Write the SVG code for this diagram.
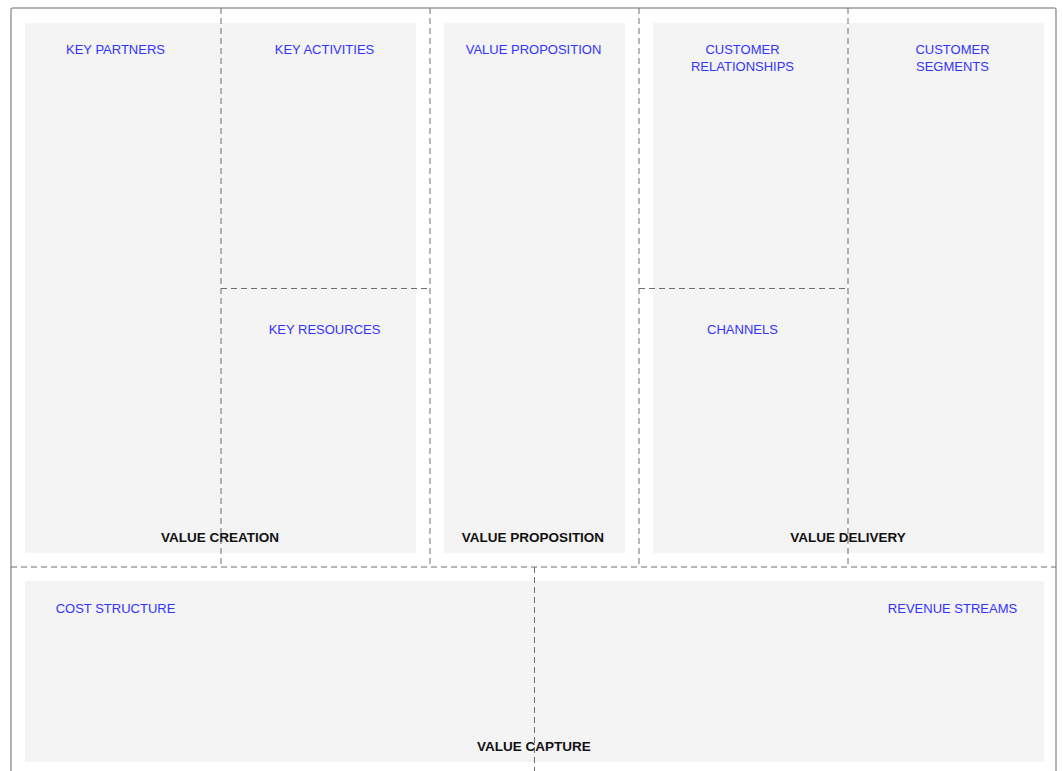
<svg xmlns="http://www.w3.org/2000/svg" width="1062" height="771" viewBox="0 0 1062 771">
  <style>
    .panel { fill: #f4f4f4; }
    .frame { fill: none; stroke: #9a9a9a; stroke-width: 1.5; }
    .grid { stroke: #6e6e6e; stroke-width: 1; stroke-dasharray: 6 4; fill: none; }
    .lbl { font-family: "Liberation Sans", Arial, Helvetica, sans-serif; font-size: 13px; fill: #3333ff; text-anchor: middle; }
    .zone { font-family: "Liberation Sans", Arial, Helvetica, sans-serif; font-size: 13.5px; font-weight: bold; fill: #111111; text-anchor: middle; }
  </style>
  <rect width="1062" height="771" fill="#ffffff"/>

  <!-- outer frame -->
  <rect class="frame" x="11" y="8" width="1045" height="780" rx="2"/>

  <!-- shaded zones -->
  <g id="value-creation">
    <rect class="panel" x="25" y="23" width="391" height="530"/>
    <text class="zone" x="220" y="542">VALUE CREATION</text>
  </g>
  <g id="value-proposition-zone">
    <rect class="panel" x="444" y="23" width="181" height="530"/>
    <text class="zone" x="533" y="542">VALUE PROPOSITION</text>
  </g>
  <g id="value-delivery">
    <rect class="panel" x="653" y="23" width="391" height="530"/>
    <text class="zone" x="848" y="542">VALUE DELIVERY</text>
  </g>
  <g id="value-capture">
    <rect class="panel" x="25" y="581" width="1019" height="181"/>
    <text class="zone" x="534" y="751">VALUE CAPTURE</text>
  </g>

  <!-- dashed dividers -->
  <g id="connectors">
    <line class="grid" x1="221" y1="8" x2="221" y2="567"/>
    <line class="grid" x1="430" y1="8" x2="430" y2="567"/>
    <line class="grid" x1="639" y1="8" x2="639" y2="567"/>
    <line class="grid" x1="848" y1="8" x2="848" y2="567"/>
    <line class="grid" x1="11" y1="567" x2="1056" y2="567"/>
    <line class="grid" x1="221" y1="288.5" x2="430" y2="288.5"/>
    <line class="grid" x1="639" y1="288.5" x2="848" y2="288.5"/>
    <line class="grid" x1="534.5" y1="567" x2="534.5" y2="771"/>
  </g>

  <!-- block titles -->
  <g id="key-partners">
    <text class="lbl" x="115.5" y="54">KEY PARTNERS</text>
  </g>
  <g id="key-activities">
    <text class="lbl" x="324.5" y="54">KEY ACTIVITIES</text>
  </g>
  <g id="key-resources">
    <text class="lbl" x="324.5" y="334">KEY RESOURCES</text>
  </g>
  <g id="value-proposition">
    <text class="lbl" x="533.5" y="54">VALUE PROPOSITION</text>
  </g>
  <g id="customer-relationships">
    <text class="lbl" x="742.5" y="54">CUSTOMER</text>
    <text class="lbl" x="742.5" y="71">RELATIONSHIPS</text>
  </g>
  <g id="channels">
    <text class="lbl" x="742.5" y="334">CHANNELS</text>
  </g>
  <g id="customer-segments">
    <text class="lbl" x="952.5" y="54">CUSTOMER</text>
    <text class="lbl" x="952.5" y="71">SEGMENTS</text>
  </g>
  <g id="cost-structure">
    <text class="lbl" x="115.5" y="613">COST STRUCTURE</text>
  </g>
  <g id="revenue-streams">
    <text class="lbl" x="952.5" y="613">REVENUE STREAMS</text>
  </g>
</svg>
